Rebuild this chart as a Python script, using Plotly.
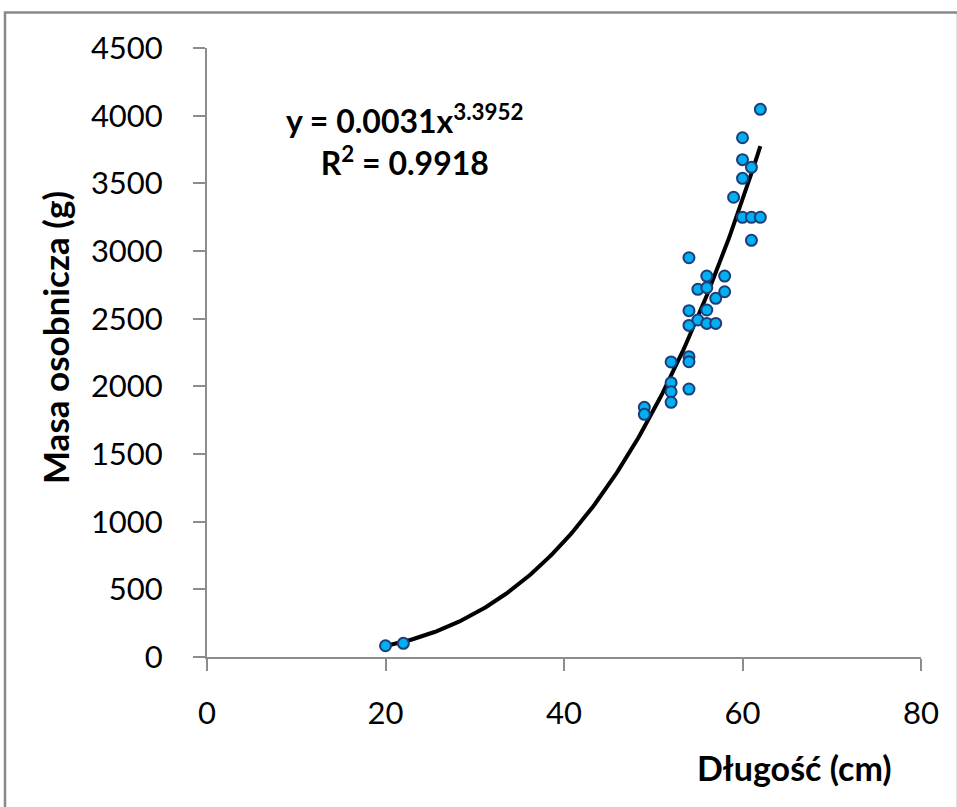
import numpy as np
import plotly.graph_objects as go

# Data
length_cm = [20, 22, 49, 49, 52, 52, 52, 52, 54, 54, 54, 54, 54, 54, 55, 55,
             56, 56, 56, 56, 57, 57, 58, 58, 59, 60, 60, 60, 60, 61, 61, 61, 62, 62]
mass_g = [83, 101, 1845, 1793, 2180, 2027, 1960, 1882, 2950, 2559, 2450, 2219, 2182, 1980, 2717, 2490,
          2815, 2729, 2564, 2465, 2650, 2465, 2815, 2699, 3397, 3837, 3675, 3537, 3249, 3618, 3249, 3079, 4047, 3249]

# Power trendline coefficients shown on the chart
coef_a = 0.0031
coef_b = 3.3952
r2 = 0.9918

x_ticks = [0, 20, 40, 60, 80]
y_ticks = [0, 500, 1000, 1500, 2000, 2500, 3000, 3500, 4000, 4500]

xt = np.linspace(min(length_cm), max(length_cm), 200)
yt = coef_a * xt ** coef_b

FONT = "Lato"
AX = "#8c8c8c"

fig = go.Figure()
fig.add_trace(go.Scatter(x=xt, y=yt, mode="lines",
                         line=dict(color="black", width=4), hoverinfo="skip"))
fig.add_trace(go.Scatter(x=length_cm, y=mass_g, mode="markers",
                         marker=dict(size=11, color="#00B0F0",
                                     line=dict(color="#1F3D7A", width=2))))

W, H = 957, 807
L, R, T, B = 207, 921, 48, 657
pw, ph = R - L, B - T

def px(xp):
    return (xp - L) / pw

def py(yp):
    return (B - yp) / ph

fig.update_layout(
    width=W, height=H,
    margin=dict(l=L, r=W - R, t=T, b=H - B),
    plot_bgcolor="white", paper_bgcolor="white",
    showlegend=False,
    font=dict(family=FONT, size=31, color="black"),
    xaxis=dict(range=[0, 80], tickvals=x_ticks, showgrid=False, zeroline=False,
               showline=True, linecolor=AX, linewidth=2,
               ticks="outside", ticklen=12, tickwidth=2, tickcolor=AX,
               ticklabelstandoff=16, tickfont=dict(size=31)),
    yaxis=dict(range=[0, 4500], tickvals=y_ticks, showgrid=False, zeroline=False,
               showline=True, linecolor=AX, linewidth=2,
               ticks="outside", ticklen=12, tickwidth=2, tickcolor=AX,
               ticklabelstandoff=24, tickfont=dict(size=31)),
    shapes=[dict(type="rect", xref="paper", yref="paper",
                 x0=px(5), x1=px(958), y0=py(850), y1=py(12.5),
                 line=dict(color="#898989", width=2.5), fillcolor="rgba(0,0,0,0)",
                 layer="below")],
    annotations=[
        dict(xref="paper", yref="paper", x=px(405), y=py(140), xanchor="center", yanchor="middle",
             text=f"<b>y = {coef_a}x<sup>{coef_b}</sup></b><br><b>R<sup>2</sup> = {r2}</b>",
             showarrow=False, align="center", font=dict(size=32, family=FONT)),
        dict(xref="paper", yref="paper", x=px(55), y=py(338), xanchor="center", yanchor="middle",
             text="<b>Masa osobnicza (g)</b>", textangle=-90, showarrow=False,
             font=dict(size=35, family=FONT)),
        dict(xref="paper", yref="paper", x=px(894), y=py(767), xanchor="right", yanchor="middle",
             text="<b>Długość (cm)</b>", showarrow=False,
             font=dict(size=34, family=FONT)),
    ],
)

fig.write_html("out.html")
